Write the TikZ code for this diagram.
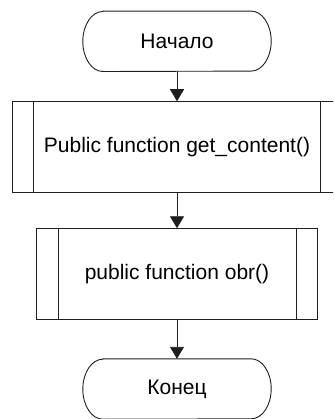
\documentclass[tikz,border=0pt]{standalone}
\usepackage{fontspec}
\setmainfont{Liberation Sans}
\usepackage{xcolor}
\usepackage{tikz}
\usetikzlibrary{
    positioning,
    arrows.meta,
    calc
}
\definecolor{lineGray}{RGB}{30, 30, 30}

\begin{document}
\begin{tikzpicture}[x=1pt, y=1pt, >={Triangle[width=14pt, length=12pt]},
        every node/.style={font=\fontsize{21}{25}\selectfont, inner sep=0pt},
        terminal/.style={minimum width=188pt, minimum height=60pt},
        subproc/.style={draw=lineGray, line width=0.9pt, minimum height=90.6pt},
        flowline/.style={lineGray, line width=0.9pt}]
        \useasboundingbox (0,0) rectangle (333,-419);
        \clip (0,0) rectangle (333,-419);

        % блоки
        \node[terminal] (start) at (177,-41.3) {Начало};
        \node[subproc, minimum width=330pt] (getc) at (177,-147) {Public function get\_content()};
        \node[subproc, minimum width=281pt] (obr) at (177,-274) {public function obr()};
        \node[terminal] (stop) at (177,-389) {Конец};

        % контур терминаторов
        \foreach \t in {start, stop} {
            \draw[flowline] ([xshift=20pt]\t.north west) -- ([xshift=-20pt]\t.north east)
                arc[start angle=90, end angle=-90, x radius=20pt, y radius=30pt]
                -- ([xshift=20pt]\t.south west)
                arc[start angle=270, end angle=90, x radius=20pt, y radius=30pt] -- cycle;
        }

        % боковые линии подпрограмм
        \foreach \b in {getc, obr} {
            \draw[flowline] ([xshift=22pt]\b.north west) -- ([xshift=22pt]\b.south west);
            \draw[flowline] ([xshift=-22pt]\b.north east) -- ([xshift=-22pt]\b.south east);
        }

        % стрелки
        \draw[flowline, ->] (start) -- (getc);
        \draw[flowline, ->] (getc) -- (obr);
        \draw[flowline, ->] (obr) -- (stop);
\end{tikzpicture}
\end{document}
